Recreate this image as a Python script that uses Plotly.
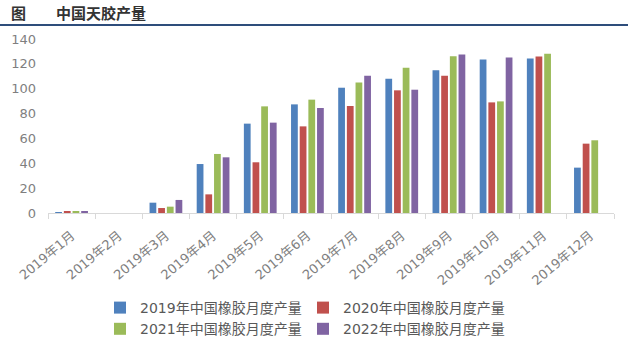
import plotly.graph_objects as go

months = ["2019年1月", "2019年2月", "2019年3月", "2019年4月", "2019年5月", "2019年6月",
          "2019年7月", "2019年8月", "2019年9月", "2019年10月", "2019年11月", "2019年12月"]

output_2019 = [0.8, 0, 8.3, 39.4, 71.9, 87.4, 100.8, 108.1, 114.8, 123.6, 124.4, 36.5]
output_2020 = [1.5, 0, 4.0, 15.0, 40.8, 69.7, 86.1, 98.7, 110.5, 89.0, 126.0, 55.8]
output_2021 = [1.5, 0, 5.1, 47.5, 85.8, 91.2, 105.1, 116.9, 126.1, 89.8, 128.2, 58.5]
output_2022 = [1.5, 0, 10.5, 44.8, 72.7, 84.5, 110.5, 99.2, 127.5, 125.2, None, None]

series = [
    ("2019年中国橡胶月度产量", output_2019, "#4F81BD"),
    ("2020年中国橡胶月度产量", output_2020, "#C0504D"),
    ("2021年中国橡胶月度产量", output_2021, "#9BBB59"),
    ("2022年中国橡胶月度产量", output_2022, "#8064A2"),
]

W, H = 628, 341
L, R, T, B = 48, 14, 39, 128
PW, PH = W - L - R, H - T - B

FONT = "DejaVu Sans, Noto Sans CJK SC, sans-serif"

fig = go.Figure()
for name, vals, color in series:
    fig.add_trace(go.Bar(x=months, y=vals, name=name, marker_color=color,
                         marker_line_width=0))

def px_x(p):
    return (p - L) / PW

def px_y(p):
    return (H - B - p) / PH

fig.update_layout(
    width=W, height=H,
    margin=dict(l=L, r=R, t=T, b=B, pad=0, autoexpand=False),
    paper_bgcolor="white", plot_bgcolor="white",
    barmode="group", bargap=0.265, bargroupgap=0.22,
    font=dict(family=FONT, color="#7F7F7F", size=12),
    showlegend=True,
    legend=dict(orientation="h", x=px_x(100), y=px_y(292), xanchor="left", yanchor="top",
                entrywidth=158, entrywidthmode="pixels",
                font=dict(size=14, color="#595959", family=FONT),
                traceorder="normal", itemwidth=30, tracegroupgap=0),
    xaxis=dict(showgrid=False, showline=True, linecolor="#D9D9D9", linewidth=1,
               ticks="outside", tickson="boundaries", ticklen=5, tickcolor="#D9D9D9",
               tickangle=-40, tickfont=dict(size=13, color="#7F7F7F"),
               automargin=False, ticklabelstandoff=9),
    yaxis=dict(range=[0, 140], dtick=20, showgrid=False, showline=False, zeroline=False,
               ticks="", tickfont=dict(size=13, color="#7F7F7F"), ticklabelstandoff=11,
               automargin=False),
    annotations=[
        dict(text="<b>图</b>", xref="paper", yref="paper", x=px_x(9), y=px_y(12),
             xanchor="left", yanchor="middle", showarrow=False,
             font=dict(size=15, color="#333333", family="Noto Sans CJK SC")),
        dict(text="<b>中国天胶产量</b>", xref="paper", yref="paper", x=px_x(54), y=px_y(12),
             xanchor="left", yanchor="middle", showarrow=False,
             font=dict(size=15, color="#333333", family="Noto Sans CJK SC")),
    ],
    shapes=[
        dict(type="line", xref="paper", yref="paper", x0=px_x(0), x1=px_x(W),
             y0=px_y(25), y1=px_y(25), line=dict(color="#2E4D7B", width=2)),
    ],
)

fig.write_html("out.html")
